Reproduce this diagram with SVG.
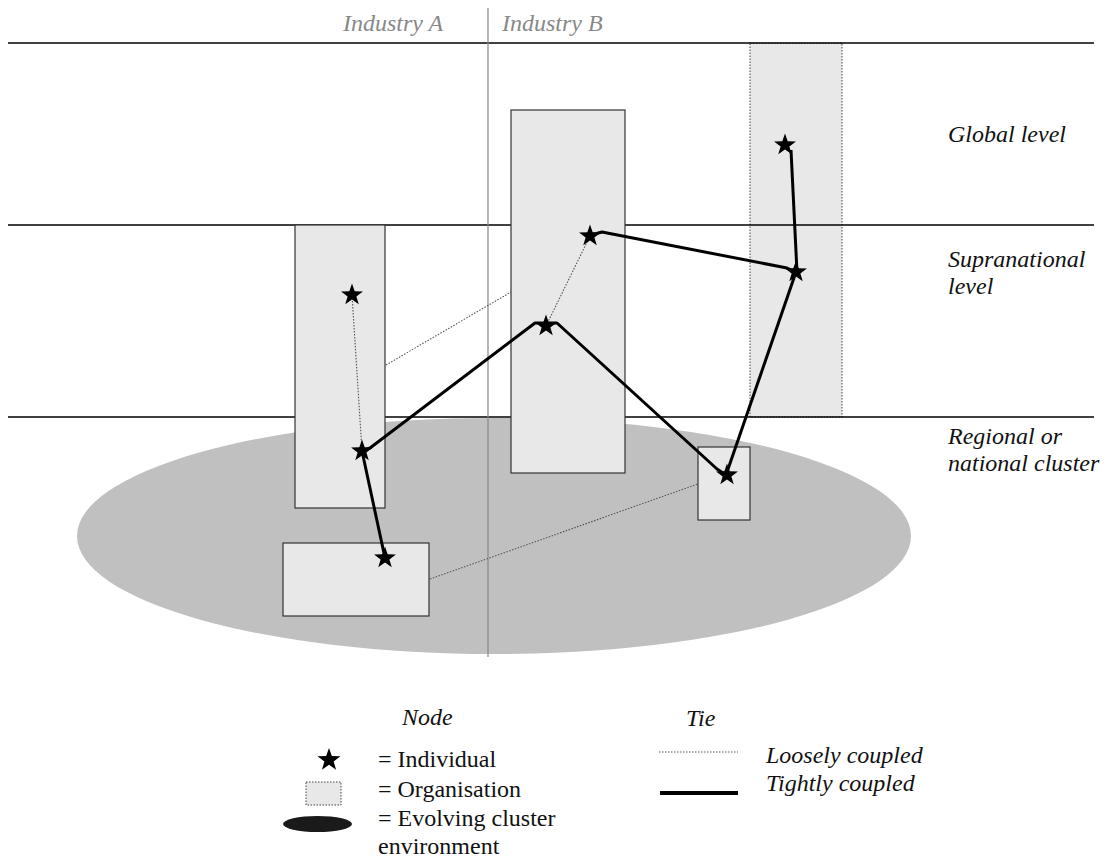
<svg xmlns="http://www.w3.org/2000/svg" width="1107" height="859" viewBox="0 0 1107 859">
<style>
.lvl{stroke:#000;stroke-width:1.3;fill:none}
.org{fill:#e8e8e8;stroke:#333;stroke-width:1.2}
.orgd{fill:#e8e8e8;stroke:#444;stroke-width:1;stroke-dasharray:1.5 1.5}
.tight{stroke:#000;stroke-width:3;fill:none;stroke-linejoin:round}
.loose{stroke:#555;stroke-width:1.1;fill:none;stroke-dasharray:1.5 1.5}
.lab{font-style:italic;fill:#111}
.ind{font-style:italic;fill:#888}
.leg{fill:#111}
</style>
<defs>
<path id="star" d="M0,-11.5 L2.7,-3.72 L10.94,-3.55 L4.37,1.42 L6.76,9.30 L0,4.6 L-6.76,9.30 L-4.37,1.42 L-10.94,-3.55 L-2.7,-3.72 Z" fill="#000"/>
</defs>
<rect width="1107" height="859" fill="#fff"/>
<g id="cluster">
<ellipse cx="494" cy="536" rx="417" ry="118" fill="#c0c0c0"/>
</g>
<g id="org-global">
<rect class="orgd" x="750" y="43" width="92" height="374"/>
</g>
<g id="levels">
<line class="lvl" x1="8" y1="43" x2="1094" y2="43"/>
<line class="lvl" x1="8" y1="225" x2="1094" y2="225"/>
<line class="lvl" x1="8" y1="417" x2="1094" y2="417"/>
<line x1="488" y1="8" x2="488" y2="657" stroke="#888" stroke-width="1.2"/>
</g>
<g id="org-a"><rect class="org" x="295" y="225" width="90" height="283"/></g>
<g id="org-b"><rect class="org" x="511" y="110" width="114" height="363"/></g>
<g id="org-small"><rect class="org" x="698" y="447" width="52" height="73"/></g>
<g id="org-bottom"><rect class="org" x="283" y="543" width="146" height="73"/></g>
<g id="connectors">
<line class="loose" x1="352" y1="295" x2="362" y2="451"/>
<line class="loose" x1="386" y1="365" x2="511" y2="292"/>
<line class="loose" x1="546" y1="326" x2="590" y2="236"/>
<line class="loose" x1="430" y1="579" x2="698" y2="484"/>
<polyline class="tight" points="362,451 370,448 535,323 557,323 717,469 726,475"/>
<line class="tight" x1="362" y1="451" x2="385" y2="558"/>
<polyline class="tight" points="591,235 602,232 787,268 796,272"/>
<line class="tight" x1="791" y1="150" x2="797" y2="272"/>
<line class="tight" x1="796" y1="272" x2="726" y2="475"/>
</g>
<g id="individuals">
<use href="#star" x="352" y="295"/>
<use href="#star" x="362" y="451"/>
<use href="#star" x="385" y="558"/>
<use href="#star" x="590" y="236"/>
<use href="#star" x="546" y="326"/>
<use href="#star" x="785" y="145"/>
<use href="#star" x="796" y="272"/>
<use href="#star" x="727" y="475"/>
</g>
<g id="labels" font-family="Liberation Serif, Times New Roman, serif" font-size="24">
<text class="ind" x="343" y="31">Industry A</text>
<text class="ind" x="502" y="31">Industry B</text>
<text class="lab" x="948" y="142">Global level</text>
<text class="lab" x="948" y="267">Supranational</text>
<text class="lab" x="948" y="294">level</text>
<text class="lab" x="948" y="444">Regional or</text>
<text class="lab" x="948" y="471">national cluster</text>
</g>
<g id="legend" font-family="Liberation Serif, Times New Roman, serif" font-size="24">
<text class="lab" x="402" y="725">Node</text>
<text class="lab" x="686" y="726">Tie</text>
<use href="#star" transform="translate(329,760) scale(1.05)"/>
<text class="leg" x="378" y="767">= Individual</text>
<rect x="306" y="782" width="35" height="23" fill="#e8e8e8" stroke="#444" stroke-width="1" stroke-dasharray="1.5 1.5"/>
<text class="leg" x="378" y="797">= Organisation</text>
<ellipse cx="317.5" cy="824" rx="34.5" ry="8" fill="#1a1a1a"/>
<text class="leg" x="378" y="826">= Evolving cluster</text>
<text class="leg" x="378" y="854">environment</text>
<line class="loose" x1="659" y1="752" x2="738" y2="752"/>
<line x1="660" y1="793" x2="738" y2="793" stroke="#000" stroke-width="4"/>
<text class="lab" x="766" y="763">Loosely coupled</text>
<text class="lab" x="766" y="791">Tightly coupled</text>
</g>
</svg>
